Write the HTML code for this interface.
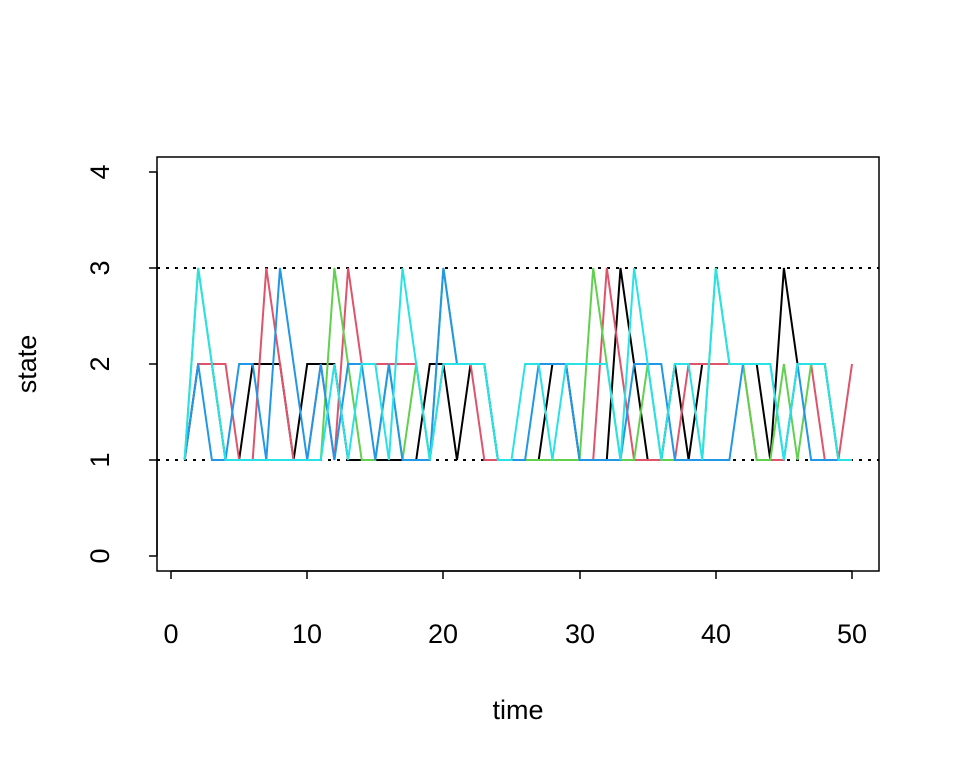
<!DOCTYPE html>
<html><head><meta charset="utf-8"><style>body{margin:0;background:#fff}svg{display:block}</style></head>
<body>
<svg id="s" width="960" height="768" xmlns="http://www.w3.org/2000/svg" font-family="Liberation Sans, sans-serif" font-size="27">
<rect x="157" y="157" width="722" height="414" fill="none" stroke="#000" stroke-width="1.5"/>
<line x1="157" y1="268" x2="879" y2="268" stroke="#000" stroke-width="2" stroke-dasharray="3,6"/>
<line x1="157" y1="460" x2="879" y2="460" stroke="#000" stroke-width="2" stroke-dasharray="3,6"/>
<g stroke="#000" stroke-width="1.5">
<line x1="171" y1="571" x2="852" y2="571"/>
<line x1="171" y1="571" x2="171" y2="579"/><line x1="307" y1="571" x2="307" y2="579"/><line x1="443" y1="571" x2="443" y2="579"/><line x1="580" y1="571" x2="580" y2="579"/><line x1="716" y1="571" x2="716" y2="579"/><line x1="852" y1="571" x2="852" y2="579"/>
<line x1="157" y1="172" x2="157" y2="556"/>
<line x1="149" y1="172" x2="157" y2="172"/><line x1="149" y1="268" x2="157" y2="268"/><line x1="149" y1="364" x2="157" y2="364"/><line x1="149" y1="460" x2="157" y2="460"/><line x1="149" y1="556" x2="157" y2="556"/>
</g>
<g text-anchor="middle">
<text x="171" y="643">0</text><text x="307" y="643">10</text><text x="443" y="643">20</text><text x="580" y="643">30</text><text x="716" y="643">40</text><text x="852" y="643">50</text>
<text x="518" y="719">time</text>
<text transform="translate(109,556) rotate(-90)">0</text>
<text transform="translate(109,460) rotate(-90)">1</text>
<text transform="translate(109,364) rotate(-90)">2</text>
<text transform="translate(109,268) rotate(-90)">3</text>
<text transform="translate(109,172) rotate(-90)">4</text>
<text transform="translate(36,364) rotate(-90)">state</text>
</g>
<g id="lines" fill="none" stroke-width="2"></g>
</svg>
<script>
var S=[
["#000",[1,2,2,1,1,2,2,2,1,2,2,2,1,1,1,1,1,1,2,2,1,2,2,1,1,1,1,2,2,1,1,1,3,2,1,1,2,1,2,2,2,2,2,1,3,2,2,2,1,1]],
["#DF536B",[1,2,2,2,1,1,3,2,1,1,2,1,3,2,2,2,2,2,1,2,2,2,1,1,1,1,1,1,1,1,1,3,2,1,1,1,1,2,2,2,2,2,1,1,1,2,2,1,1,2]],
["#61D04F",[1,3,2,1,1,1,1,1,1,1,1,3,2,1,1,2,1,2,1,3,2,2,2,1,1,1,1,1,1,1,3,2,1,1,2,1,1,1,1,3,2,2,1,1,2,1,2,2,1,1]],
["#2297E6",[1,2,1,1,2,2,1,3,2,1,2,1,2,2,1,2,1,1,1,3,2,2,2,1,1,1,2,2,2,1,1,1,1,2,2,2,1,1,1,1,1,2,2,2,1,2,1,1,1,1]],
["#28E2E5",[1,3,2,1,1,1,1,1,1,1,1,2,1,2,2,1,3,2,1,2,2,2,2,1,1,2,2,1,2,2,2,2,1,3,2,1,2,2,1,3,2,2,2,2,1,2,2,2,1,1]]];
var g=document.getElementById("lines");
S.forEach(function(s){var p=s[1].map(function(v,i){return (171+(i+1)*13.62).toFixed(1)+","+(556-v*96)}).join(" ");
var e=document.createElementNS("http://www.w3.org/2000/svg","polyline");e.setAttribute("points",p);e.setAttribute("stroke",s[0]);g.appendChild(e);});
</script>
</body></html>
